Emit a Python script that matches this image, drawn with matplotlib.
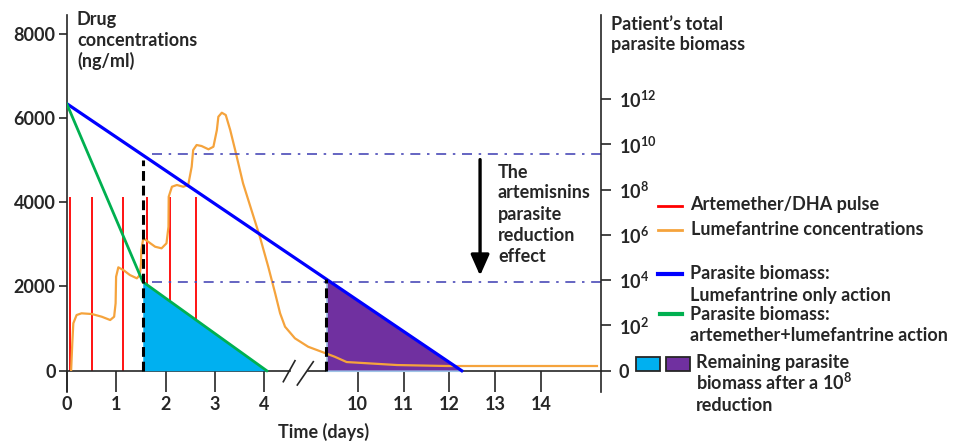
import numpy as np
import matplotlib.pyplot as plt
from matplotlib.patches import Rectangle

plt.rcParams['font.family'] = ['Lato', 'DejaVu Sans']
plt.rcParams['font.weight'] = 'bold'
plt.rcParams['mathtext.fontset'] = 'custom'
plt.rcParams['mathtext.rm'] = 'Lato:bold'

# ---- data ----
tick_days = [0, 1, 2, 3, 4, 10, 11, 12, 13, 14]
conc_ticks = [0, 2000, 4000, 6000, 8000]
log_ticks = [0, 2, 4, 6, 8, 10, 12]

# artemether/DHA pulses
pulse_days = [0.07, 0.51, 1.13, 1.63, 2.09, 2.62]
pulse_top = 4130

# lumefantrine concentration (ng/ml)
lum_days = [0.09, 0.113, 0.134, 0.20, 0.30, 0.51, 0.71, 0.88, 0.96, 0.99, 0.995,
            1.00, 1.045, 1.146, 1.28, 1.42, 1.48, 1.504, 1.51, 1.55, 1.65, 1.79,
            1.92, 2.02, 2.06, 2.065, 2.13, 2.23, 2.36, 2.46, 2.53, 2.56, 2.63,
            2.73, 2.87, 2.97, 3.04, 3.07, 3.14, 3.22, 3.31, 3.41, 3.57, 3.74,
            3.91, 4.08, 4.22, 4.32, 4.42, 4.62, 8.92, 9.21, 9.50, 9.76, 10.86,
            11.95, 15.22]
lum_conc = [20, 650, 1125, 1321, 1362, 1345, 1281, 1203, 1281, 1599, 1915,
            2230, 2453, 2389, 2270, 2192, 2270, 2548, 2864, 3141, 3060, 2942,
            2904, 3023, 3416, 4128, 4365, 4406, 4365, 4406, 4840, 5236, 5355,
            5331, 5253, 5314, 5711, 6026, 6121, 6066, 5711, 5236, 4446, 3812,
            3179, 2467, 1836, 1362, 1044, 769, 569, 451, 332, 206, 135,
            112, 112]

# parasite biomass as log10 exponent
blue_days = [0, 12.27]
blue_log = [11.8, 0]
green_days = [0, 1.54, 4.05]
green_log = [11.8, 3.93, 0]
cut_blue = 9.32          # start of the purple (lumefantrine only) remainder
level_hi, level_lo = 9.57, 3.92
arrow_day, arrow_top, arrow_tip = 12.67, 9.45, 4.08

UNIT = 537   # ng/ml axis height of one log10 step on the right axis


def tx(t):
    # broken time axis: days 0-4 then 10-14
    t = np.asarray(t, float)
    return np.where(t < 6, t, 5.89 + (t - 10) * 0.928)


fig = plt.figure(figsize=(9.57, 4.43), dpi=100)
ax = fig.add_axes([0.0697, 0.1151, 0.558, 0.851])
ylo, yhi = -505, 8439
xmax = 10.81
ax.set_xlim(0, xmax)
ax.set_ylim(ylo, yhi)

dark = '#262626'
fs = 13
for s in ['top', 'right']:
    ax.spines[s].set_visible(False)
ax.spines['bottom'].set_position(('data', 0))
for s in ['left', 'bottom']:
    ax.spines[s].set_color(dark)
    ax.spines[s].set_linewidth(1.2)

ax.set_xticks(tx(tick_days))
ax.set_xticklabels([str(d) for d in tick_days])
ax.tick_params(axis='x', direction='out', length=15, width=1.2, color=dark,
               labelsize=fs, labelcolor=dark, pad=3)
ax.set_yticks(conc_ticks)
ax.tick_params(axis='y', direction='out', length=6, width=1.2, color=dark,
               labelsize=fs, labelcolor=dark, pad=2)

# red pulses (under the fills)
ax.vlines(tx(pulse_days), 0, pulse_top, color='#FF0000', lw=1.3, zorder=2)

# remaining biomass areas
gd = tx(green_days)
ax.fill_between(gd[1:], 0, np.array(green_log[1:]) * UNIT, color='#00B0F0',
                lw=0, zorder=3)
bd = tx(blue_days)
b_cut = np.interp(tx(cut_blue), bd, blue_log)
ax.fill_between([tx(cut_blue), bd[1]], 0, [b_cut * UNIT, 0], facecolor='#7030A0',
                edgecolor='#9DC3E6', lw=1.2, zorder=3)

# lumefantrine
ax.plot(tx(lum_days), lum_conc, color='#F5A33C', lw=1.6, zorder=4,
        solid_joinstyle='round')

# biomass lines
ax.plot(bd, np.array(blue_log) * UNIT, color='#0000FF', lw=2.3, zorder=5)
ax.plot(gd, np.array(green_log) * UNIT, color='#00B050', lw=2.0, zorder=5)

# reference levels and cut markers
ax.hlines([level_hi * UNIT, level_lo * UNIT], tx(1.73), xmax, color='#4A4AB8',
          lw=1.2, linestyles=[(0, (6, 4, 1.5, 4))], zorder=4)
ax.vlines(tx(green_days[1]), 0, 9.3 * UNIT, color='black', lw=2.2,
          linestyles=[(0, (3.2, 1.6))], zorder=6)
ax.vlines(tx(cut_blue), 0, b_cut * UNIT, color='black', lw=2.2,
          linestyles=[(0, (3.2, 1.6))], zorder=6)

ax.annotate('', xy=(tx(arrow_day), arrow_tip * UNIT),
            xytext=(tx(arrow_day), arrow_top * UNIT),
            arrowprops=dict(arrowstyle='-|>,head_width=0.4,head_length=0.9',
                            lw=2.4, color='black', mutation_scale=14), zorder=6)

# right axis: parasite biomass
ax2 = ax.twinx()
ax2.set_ylim(ylo, yhi)
for s in ['top', 'left', 'bottom']:
    ax2.spines[s].set_visible(False)
ax2.spines['right'].set_color(dark)
ax2.spines['right'].set_linewidth(1.2)
ax2.set_yticks(np.array(log_ticks) * UNIT)
ax2.set_yticklabels(['0'] + [r'$\mathregular{10^{%d}}$' % e for e in log_ticks[1:]])
ax2.tick_params(axis='y', direction='out', length=7, width=1.2, color=dark,
                labelsize=fs, labelcolor=dark, pad=6)

# overlay in pixel coordinates for labels, legend, axis break
ov = fig.add_axes([0, 0, 1, 1], zorder=10)
ov.set_xlim(0, 957)
ov.set_ylim(443, 0)
ov.axis('off')
ov.patch.set_alpha(0)


def lines(x, baselines, texts, size=fs):
    for y, t in zip(baselines, texts):
        ov.text(x, y, t, fontsize=size, color=dark, va='baseline', ha='left')


lines(77, [25, 46, 67], ['Drug', 'concentrations', '(ng/ml)'])
lines(611, [30, 50], ['Patient\u2019s total', 'parasite biomass'])
lines(498, [177.5, 198, 219.5, 241, 262.5],
      ['The', 'artemisnins', 'parasite', 'reduction', 'effect'])
ov.text(324, 438, 'Time (days)', fontsize=fs, color=dark, ha='center', va='baseline')

# axis break
ov.add_patch(Rectangle((291, 367), 15, 7, color='white', zorder=1))
ov.plot([283.3, 295], [381.7, 360.7], color=dark, lw=1.2)
ov.plot([297.3, 313.3], [385, 361.7], color=dark, lw=1.2)

# legend
ov.plot([658, 682], [205.7, 205.7], color='#FF0000', lw=2)
ov.plot([658, 682], [230, 230], color='#F5A33C', lw=2)
ov.plot([658, 682], [274, 274], color='#0000FF', lw=3)
ov.plot([660, 682], [314, 314], color='#00B050', lw=3)
lines(690, [210], ['Artemether/DHA pulse'])
lines(691, [235], ['Lumefantrine concentrations'])
lines(690, [279.3, 301], ['Parasite biomass:', 'Lumefantrine only action'])
lines(690, [320, 340.7], ['Parasite biomass:', 'artemether+lumefantrine action'])
ov.add_patch(Rectangle((636, 357), 24, 14, facecolor='#00B0F0', edgecolor=dark, lw=1.3))
ov.add_patch(Rectangle((666, 357), 24, 14, facecolor='#7030A0', edgecolor=dark, lw=1.3))
lines(696, [367.7, 389.3, 410.7],
      ['Remaining parasite', r'biomass after a $\mathregular{10^{8}}$', 'reduction'])

fig.savefig('out.png', dpi=100)
